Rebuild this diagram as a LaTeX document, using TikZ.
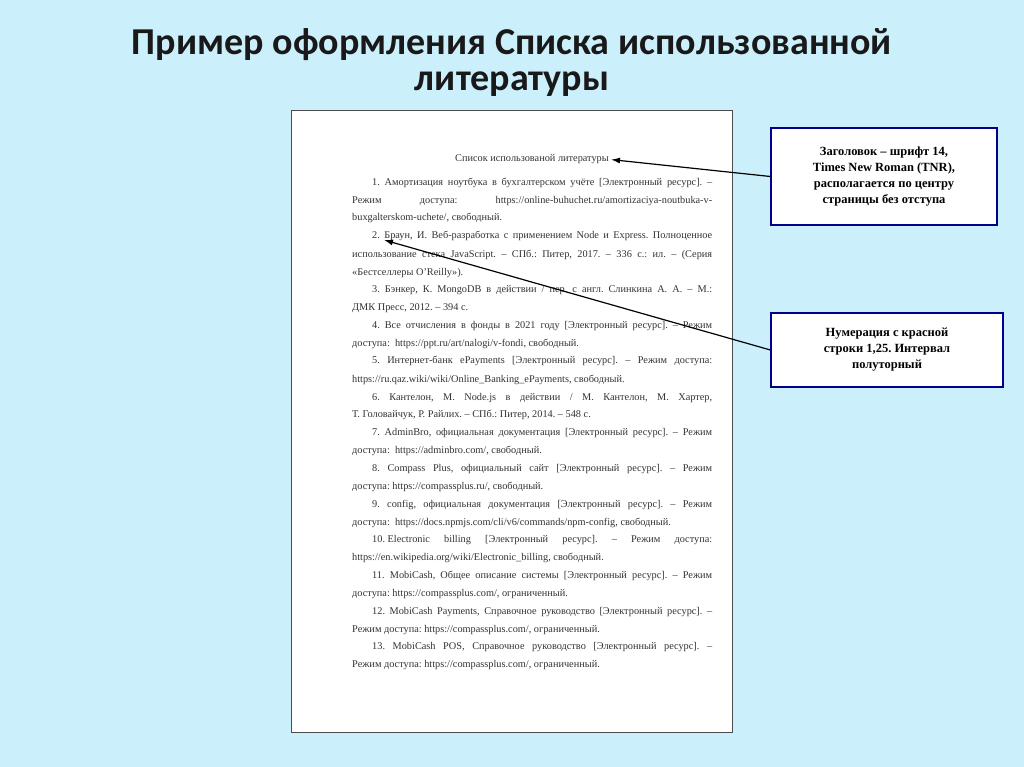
\documentclass[tikz,border=0pt]{standalone}
\usepackage{fontspec}
\usetikzlibrary{arrows.meta}
\setmainfont{Liberation Serif}
\newfontfamily\titlefont{Carlito}
\begin{document}
\frenchspacing
\begin{tikzpicture}[x=1pt,y=-1pt,
  ln/.style={anchor=base west,inner sep=0pt,font=\fontsize{10.3}{11}\selectfont\frenchspacing,text=black!80},
  callout/.style={draw=blue!55!black,line width=1.2pt,fill=white,align=center,font=\bfseries\fontsize{12.5}{16}\selectfont},
  arr/.style={-{Latex[length=9pt,width=6pt]},line width=1.2pt}]
\fill[cyan!20!white] (0,0) rectangle (1024,767);
\useasboundingbox (0,0) rectangle (1024,767);
\node[font=\titlefont\bfseries\fontsize{38}{40}\selectfont,text=black!90] (t1) at (512,45) {Пример оформления Списка использованной};
\node[font=\titlefont\bfseries\fontsize{38}{40}\selectfont,text=black!90] (t2) at (512,84) {литературы};
\draw[draw=black!70,fill=white,line width=0.8pt] (291,110) rectangle (732,732);
\node[ln,anchor=base] (hd) at (532,162) {Список использованой литературы};
\def\A#1#2{\node[ln] at (372,#1) {\makebox[340pt][s]{#2}};}
\def\B#1#2{\node[ln] at (352,#1) {\makebox[360pt][s]{#2}};}
\def\C#1#2{\node[ln] at (352,#1) {#2};}
\A{186}{1. Амортизация ноутбука в бухгалтерском учёте [Электронный ресурс]. –}
\B{204}{Режим \hfill доступа: \hfill https://online-buhuchet.ru/amortizaciya-noutbuka-v-}
\C{221}{buxgalterskom-uchete/, свободный.}
\A{239}{2. Браун, И. Веб-разработка с применением Node и Express. Полноценное}
\B{257}{использование стека JavaScript. – СПб.: Питер, 2017. – 336 с.: ил. – (Серия}
\C{275}{«Бестселлеры O’Reilly»).}
\A{292}{3. Бэнкер, К. MongoDB в действии / пер. с англ. Слинкина А. А. – М.:}
\C{310}{ДМК Пресс, 2012. – 394 с.}
\A{328}{4. Все отчисления в фонды в 2021 году [Электронный ресурс]. – Режим}
\C{346}{доступа: \ https://ppt.ru/art/nalogi/v-fondi, свободный.}
\A{363}{5. Интернет-банк ePayments [Электронный ресурс]. – Режим доступа:}
\C{382}{https://ru.qaz.wiki/wiki/Online\_Banking\_ePayments, свободный.}
\A{400}{6. Кантелон, М. Node.js в действии / М. Кантелон, М. Хартер,}
\C{417}{Т. Головайчук, Р. Райлих. – СПб.: Питер, 2014. – 548 с.}
\A{435}{7. AdminBro, официальная документация [Электронный ресурс]. – Режим}
\C{453}{доступа: \ https://adminbro.com/, свободный.}
\A{471}{8. Compass Plus, официальный сайт [Электронный ресурс]. – Режим}
\C{489}{доступа: https://compassplus.ru/, свободный.}
\A{507}{9. config, официальная документация [Электронный ресурс]. – Режим}
\C{525}{доступа: \ https://docs.npmjs.com/cli/v6/commands/npm-config, свободный.}
\A{542}{10. Electronic \hfill billing \hfill [Электронный \hfill ресурс]. \hfill – \hfill Режим \hfill доступа:}
\C{560}{https://en.wikipedia.org/wiki/Electronic\_billing, свободный.}
\A{578}{11. MobiCash, Общее описание системы [Электронный ресурс]. – Режим}
\C{596}{доступа: https://compassplus.com/, ограниченный.}
\A{614}{12. MobiCash Payments, Справочное руководство [Электронный ресурс]. –}
\C{632}{Режим доступа: https://compassplus.com/, ограниченный.}
\A{649}{13. MobiCash POS, Справочное руководство [Электронный ресурс]. –}
\C{667}{Режим доступа: https://compassplus.com/, ограниченный.}
\coordinate (tip2) at (384,240);
\node[callout,minimum width=226pt,minimum height=97pt] (c1) at (884,176.5) {Заголовок – шрифт 14,\\Times New Roman (TNR),\\располагается по центру\\страницы без отступа};
\node[callout,minimum width=232pt,minimum height=74pt] (c2) at (887,350) {Нумерация с красной\\строки 1,25. Интервал\\полуторный};
\draw[arr] (c1.west) -- ([xshift=2pt]hd.east);
\draw[arr] (c2.west) -- (tip2);
\end{tikzpicture}
\end{document}
